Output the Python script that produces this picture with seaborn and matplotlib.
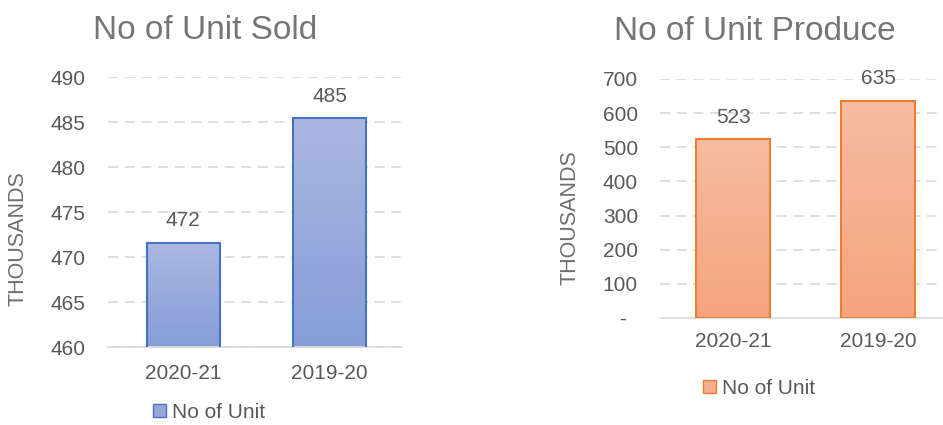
import numpy as np
import matplotlib
matplotlib.use("Agg")
import matplotlib.pyplot as plt
import seaborn as sns
from matplotlib.patches import Patch
from matplotlib.colors import LinearSegmentedColormap

# data (values in thousands)
years = ["2020-21", "2019-20"]
sold = [471.6, 485.4]
produced = [523, 635]
sold_ticks = [460, 465, 470, 475, 480, 485, 490]
produced_ticks = [0, 100, 200, 300, 400, 500, 600, 700]
produced_tick_labels = ["-  ", "100", "200", "300", "400", "500", "600", "700"]

sns.set_theme(style="white")
plt.rcParams["font.family"] = ["Liberation Sans", "DejaVu Sans"]

TEXT = "#595959"
GRID = "#D9D9D9"


def gradient_bars(ax, top_color, bottom_color, edge_color):
    '''
    replaces the flat fill of each bar with a vertical gradient
    (light at the top, darker at the bottom), clipped to the visible part
    '''
    cmap = LinearSegmentedColormap.from_list("g", [bottom_color, top_color])
    grad = np.linspace(0, 1, 256).reshape(-1, 1)
    y_low = ax.get_ylim()[0]
    for p in ax.patches:
        x, w = p.get_x(), p.get_width()
        y0, y1 = max(p.get_y(), y_low), p.get_y() + p.get_height()
        ax.imshow(grad, extent=[x, x + w, y0, y1], cmap=cmap, aspect="auto",
                  origin="lower", zorder=2, interpolation="bicubic")
        p.set_facecolor("none")
        p.set_edgecolor(edge_color)
        p.set_linewidth(1.5)
        p.set_zorder(3)


def style_axis(ax, ticks, xlim, ylim, xpad):
    ax.set_yticks(ticks)
    ax.set_xlim(*xlim)
    ax.set_ylim(*ylim)
    ax.yaxis.grid(True, color=GRID, linestyle=(0, (6, 4)), linewidth=1.2)
    ax.set_axisbelow(True)
    sns.despine(ax=ax, left=True, top=True, right=True)
    ax.spines["bottom"].set_color(GRID)
    ax.spines["bottom"].set_linewidth(1.2)
    ax.tick_params(axis="y", length=0, pad=16, labelsize=15, labelcolor=TEXT)
    ax.tick_params(axis="x", length=0, pad=xpad, labelsize=15, labelcolor=TEXT)
    ax.set_xlabel("")


fig = plt.figure(figsize=(9.43, 4.25), dpi=100)

# ---- left: units sold ----
ax1 = fig.add_axes([0.1145, 0.1835, 0.3103, 0.6353])
sns.barplot(x=years, y=sold, ax=ax1, width=0.5, color="#97A9DB")
style_axis(ax1, sold_ticks, (-0.514, 1.486), (460, 490), 12)
gradient_bars(ax1, "#AAB8E1", "#879DD7", "#4472C4")
ax1.set_xlim(-0.514, 1.486)
ax1.set_ylim(460, 490)
for p, v in zip(ax1.patches, sold):
    ax1.annotate(f"{v:.0f}", (p.get_x() + p.get_width() / 2, p.get_y() + p.get_height()),
                 xytext=(0, 16), textcoords="offset points", ha="center", va="center",
                 fontsize=15, color=TEXT)
ax1.set_ylabel("THOUSANDS", fontsize=15.5, color="#6E6E6E")
ax1.yaxis.set_label_coords(-0.272, 0.40)

# ---- right: units produced ----
ax2 = fig.add_axes([0.700, 0.2518, 0.300, 0.5624])
sns.barplot(x=years, y=produced, ax=ax2, width=0.51, color="#F5AF90")
style_axis(ax2, produced_ticks, (-0.503, 1.448), (0, 700), 10)
ax2.set_yticklabels(produced_tick_labels)
gradient_bars(ax2, "#F6BCA1", "#F5A47F", "#ED7D31")
ax2.set_xlim(-0.503, 1.448)
ax2.set_ylim(0, 700)
for p, v in zip(ax2.patches, produced):
    ax2.annotate(f"{v:.0f}", (p.get_x() + p.get_width() / 2, p.get_y() + p.get_height()),
                 xytext=(0, 16), textcoords="offset points", ha="center", va="center",
                 fontsize=15, color=TEXT)
ax2.set_ylabel("THOUSANDS", fontsize=15.5, color="#6E6E6E")
ax2.yaxis.set_label_coords(-0.283, 0.42)

# titles
fig.text(0.2174, 0.929, "No of Unit Sold", ha="center", va="center", fontsize=24, color="#757575")
fig.text(0.8006, 0.925, "No of Unit Produce", ha="center", va="center", fontsize=24, color="#757575")

# legends
ax1.legend(handles=[Patch(facecolor="#97A9DB", edgecolor="#4472C4", label="No of Unit")],
           loc="center", bbox_to_anchor=(0.2216, 0.03), bbox_transform=fig.transFigure,
           frameon=False, fontsize=15, labelcolor=TEXT, handlelength=0.6, handleheight=0.6,
           handletextpad=0.3, borderpad=0.1)
ax2.legend(handles=[Patch(facecolor="#F5AF90", edgecolor="#ED7D31", label="No of Unit")],
           loc="center", bbox_to_anchor=(0.805, 0.087), bbox_transform=fig.transFigure,
           frameon=False, fontsize=15, labelcolor=TEXT, handlelength=0.6, handleheight=0.6,
           handletextpad=0.3)

fig.savefig("out.png", dpi=100)
